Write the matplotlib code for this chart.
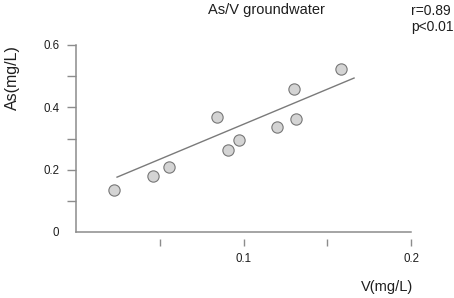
import matplotlib
matplotlib.use("Agg")
import matplotlib.pyplot as plt
from matplotlib.ticker import FixedLocator

# ── data ──────────────────────────────────────────────────────────────────
v_mgl  = [0.0229, 0.0458, 0.0555, 0.0842, 0.0907, 0.0971, 0.120, 0.130, 0.1312, 0.158]
as_mgl = [0.135, 0.181, 0.208, 0.370, 0.264, 0.295, 0.338, 0.459, 0.3625, 0.523]
fit_x  = [0.0245, 0.166]
fit_y  = [0.176, 0.494]

x_ticks  = [0.05, 0.1, 0.15, 0.2]
x_labels = ["", "0.1", "", "0.2"]
y_ticks  = [0, 0.2, 0.4, 0.6]
y_labels = ["0", "0.2", "0.4", "0.6"]
y_minor  = [0.1, 0.3, 0.5]

AXIS = "#8c8c8c"
TEXT = "#1e1e1e"
plt.rcParams["font.family"] = ["Liberation Sans", "DejaVu Sans"]

W, H = 454, 298
fig = plt.figure(figsize=(W / 100, H / 100), dpi=100, facecolor="white")
ax = fig.add_axes([76 / W, 66 / H, 335 / W, 187 / H])

ax.plot(fit_x, fit_y, color="#7a7a7a", linewidth=1.0, zorder=2)
ax.scatter(v_mgl, as_mgl, s=66, facecolor="#d4d4d4", edgecolor="#777777",
           linewidth=0.8, zorder=3, clip_on=False)

ax.set_xlim(0, 0.2)
ax.set_ylim(0, 0.6)

for s in ("top", "right"):
    ax.spines[s].set_visible(False)
ax.spines["left"].set_color(AXIS)
ax.spines["left"].set_linewidth(1.1)
# x ticks sit a little below the axis line
ax.spines["bottom"].set_position(("outward", 5))
ax.spines["bottom"].set_visible(False)
ax.axhline(0, color=AXIS, linewidth=1.1, clip_on=False, zorder=1)

ax.xaxis.set_major_locator(FixedLocator(x_ticks))
ax.set_xticklabels(x_labels)
ax.yaxis.set_major_locator(FixedLocator(y_ticks))
ax.set_yticklabels(y_labels)
ax.yaxis.set_minor_locator(FixedLocator(y_minor))
ax.yaxis.get_major_ticks()[0].tick1line.set_visible(False)

ax.tick_params(axis="x", length=5, width=1.0, color=AXIS, pad=5,
               labelsize=8.3, labelcolor=TEXT)
ax.tick_params(axis="y", which="both", length=6.5, width=1.0, color=AXIS,
               pad=5.5, labelsize=8.3, labelcolor=TEXT)

fig.text(266 / W, 1 - 10 / H, "As/V groundwater", ha="center", va="center",
         fontsize=10.5, color=TEXT)
fig.text(411 / W, 1 - 11 / H, "r=0.89", ha="left", va="center",
         fontsize=10, color=TEXT)
fig.text(411 / W, 1 - 27 / H, "p<0.01", ha="left", va="center",
         fontsize=10, color=TEXT)
fig.text(12 / W, 1 - 78 / H, "As(mg/L)", rotation=90, ha="center",
         va="center", fontsize=11.5, color=TEXT)
fig.text(387 / W, 1 - 287 / H, "V(mg/L)", ha="center", va="center",
         fontsize=10.5, color=TEXT)

fig.savefig("out.png", dpi=100, facecolor="white")
